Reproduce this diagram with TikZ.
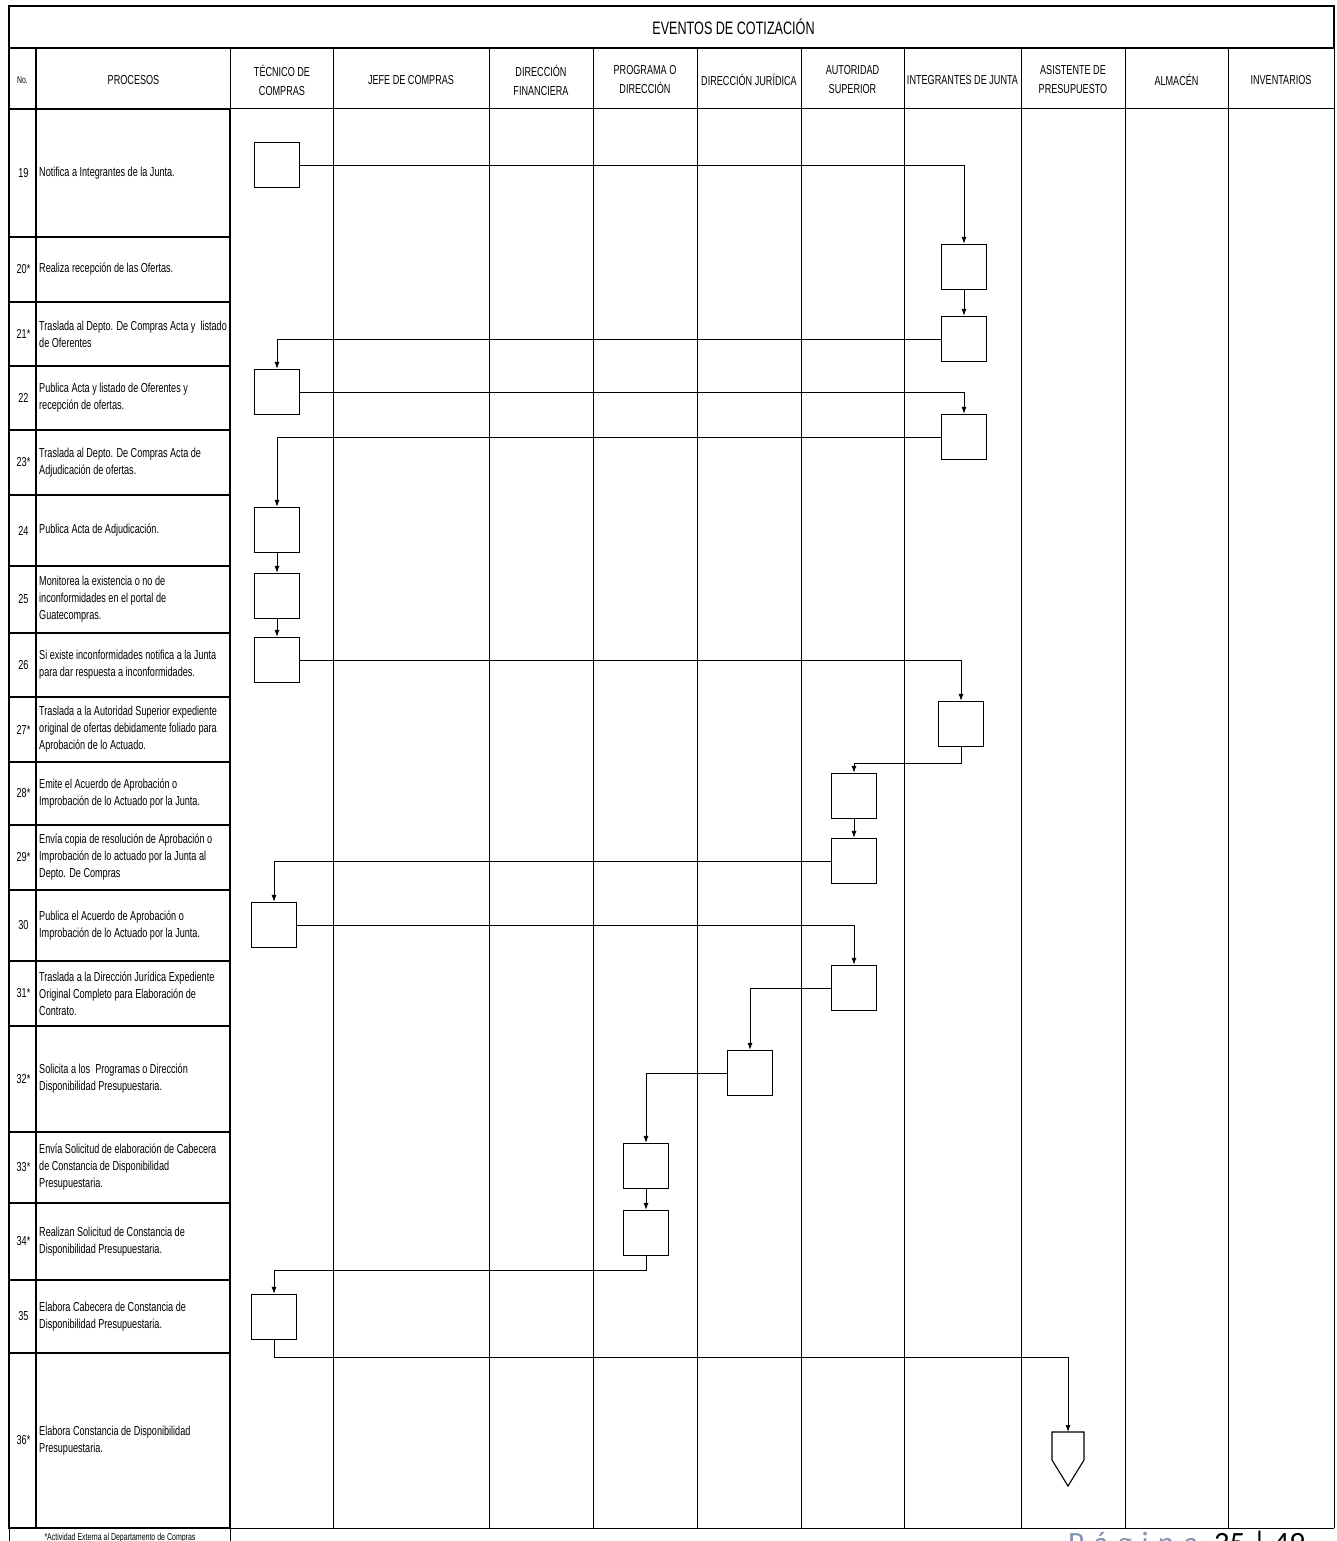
\documentclass[tikz,border=0pt]{standalone}
\usepackage{fontspec}
\setmainfont{Liberation Sans}[FakeStretch=0.70]
\newfontfamily\pagefont{Carlito}
\usepackage{tikz}
\usetikzlibrary{arrows.meta}
\definecolor{pagegray}{HTML}{8497B0}

\begin{document}
\begin{tikzpicture}[x=1pt, y=-1pt,
    tablerule/.style={line width=1.9pt},
    laneline/.style={line width=0.9pt},
    actbox/.style={draw, line width=1.3pt, minimum width=45pt, minimum height=45pt, inner sep=0pt},
    flow/.style={line width=0.9pt, -{Latex[length=7pt, width=5pt]}},
    headtext/.style={font=\fontsize{13}{19}\selectfont, align=center, inner sep=0pt},
    proctext/.style={font=\fontsize{13}{17}\selectfont, align=left, inner sep=0pt, anchor=west},
    numtext/.style={font=\fontsize{13}{17}\selectfont, inner sep=0pt}]
  \useasboundingbox (0,0) rectangle (1337,1541);
  \fill[white] (0,0) rectangle (1337,1541);

  % title and header
  \draw[line width=1.1pt] (9,6) rectangle (1334,48);
  \node[font=\fontsize{18}{20}\selectfont, inner sep=0pt] (title) at (733.5,27) {EVENTOS DE COTIZACIÓN};
  \draw[line width=1pt] (230,109) -- (1334,109);
  \draw[line width=1pt] (1334,48) -- (1334,1528);
  \draw[line width=1pt] (230,48) -- (230,109);
  \foreach \x in {333,489,593,697,801,904,1021,1125,1228}
    \draw[laneline] (\x,48) -- (\x,1528);
  \draw[laneline] (230,1528) -- (1334,1528);
  \draw[tablerule] (9,48) rectangle (36,109);
  \draw[tablerule] (36,109) -- (230,109);
  \node[headtext, font=\fontsize{9.8}{11}\selectfont] (hno) at (22.5,80) {No.};
  \foreach \x/\lab [count=\i] in
    {133.5/PROCESOS, 282/{TÉCNICO DE\\COMPRAS}, 411/JEFE DE COMPRAS,
     541/{DIRECCIÓN\\FINANCIERA}, 645/{PROGRAMA O\\DIRECCIÓN}, 749/DIRECCIÓN JURÍDICA,
     852.5/{AUTORIDAD\\SUPERIOR}, 962.5/INTEGRANTES DE JUNTA,
     1073/{ASISTENTE DE\\PRESUPUESTO}, 1176.5/ALMACÉN, 1281/INVENTARIOS}
    \node[headtext] (h\i) at (\x,80) {\lab};

  % process rows
  \foreach \k/\s/\ya/\yb/\txt in
    {19/{}/109/237/{Notifica a Integrantes de la Junta.},
     20/*/237/302/{Realiza recepción de las Ofertas.},
     21/*/302/366/{Traslada al Depto. De Compras Acta y\ \ listado\\de Oferentes},
     22/{}/366/430/{Publica Acta y listado de Oferentes y\\recepción de ofertas.},
     23/*/430/495/{Traslada al Depto. De Compras Acta de\\Adjudicación de ofertas.},
     24/{}/495/566/{Publica Acta de Adjudicación.},
     25/{}/566/633/{Monitorea la existencia o no de\\inconformidades en el portal de\\Guatecompras.},
     26/{}/633/697/{Si existe inconformidades notifica a la Junta\\para dar respuesta a inconformidades.},
     27/*/697/762/{Traslada a la Autoridad Superior expediente\\original de ofertas debidamente foliado para\\Aprobación de lo Actuado.},
     28/*/762/825/{Emite el Acuerdo de Aprobación o\\Improbación de lo Actuado por la Junta.},
     29/*/825/890/{Envía copia de resolución de Aprobación o\\Improbación de lo actuado por la Junta al\\Depto. De Compras},
     30/{}/890/961/{Publica el Acuerdo de Aprobación o\\Improbación de lo Actuado por la Junta.},
     31/*/961/1026/{Traslada a la Dirección Jurídica Expediente\\Original Completo para Elaboración de\\Contrato.},
     32/*/1026/1132/{Solicita a los\ \ Programas o Dirección\\Disponibilidad Presupuestaria.},
     33/*/1132/1203/{Envía Solicitud de elaboración de Cabecera\\de Constancia de Disponibilidad\\Presupuestaria.},
     34/*/1203/1280/{Realizan Solicitud de Constancia de\\Disponibilidad Presupuestaria.},
     35/{}/1280/1353/{Elabora Cabecera de Constancia de\\Disponibilidad Presupuestaria.},
     36/*/1353/1528/{Elabora Constancia de Disponibilidad\\Presupuestaria.}}
  {
    \draw[tablerule] (9,\ya) rectangle (36,\yb);
    \draw[tablerule] (36,\ya) rectangle (230,\yb);
    \node[numtext] (n\k) at (23.5,{(\ya+\yb)/2}) {\k\s};
    \node[proctext] (r\k) at (39,{(\ya+\yb)/2}) {\txt};
  }
  \draw[line width=0.9pt] (9,1528) -- (9,1545) (230,1528) -- (230,1545);
  \node[font=\fontsize{10}{10}\selectfont, inner sep=0pt] (note) at (120,1538)
    {*Actividad Externa al Departamento de Compras};
  \node[font=\pagefont\fontsize{31}{31}\selectfont, inner sep=0pt, anchor=base west, text=pagegray]
    (pagina) at (1068,1553)
    {P\hspace{0.3em}á\hspace{0.3em}g\hspace{0.3em}i\hspace{0.3em}n\hspace{0.3em}a\hspace{0.5em}\textcolor{black}{35 | 49}};

  % activity boxes
  \node[actbox] (t19) at (277,165) {};
  \node[actbox] (i20) at (964,267) {};
  \node[actbox] (i21) at (964,339) {};
  \node[actbox] (t22) at (277,392) {};
  \node[actbox] (i23) at (964,437) {};
  \node[actbox] (t24) at (277,530) {};
  \node[actbox] (t25) at (277,596) {};
  \node[actbox] (t26) at (277,660) {};
  \node[actbox] (i27) at (961,724) {};
  \node[actbox] (a28) at (854,796) {};
  \node[actbox] (a29) at (854,861) {};
  \node[actbox] (t30) at (274,925) {};
  \node[actbox] (a31) at (854,988) {};
  \node[actbox] (j32) at (750,1073) {};
  \node[actbox] (p33) at (646,1166) {};
  \node[actbox] (p34) at (646,1233) {};
  \node[actbox] (t35) at (274,1317) {};
  \coordinate (s36) at (1068,1432);
  \draw[line width=1.1pt] ([xshift=-16pt]s36) -- ([xshift=16pt]s36) -- ++(0,28)
    -- ++(-16,26) -- ++(-16,-26) -- cycle;

  % connectors
  \draw[flow] (t19.east) -| (i20.north);
  \draw[flow] (i20) -- (i21);
  \draw[flow] (i21.west) -| (t22.north);
  \draw[flow] (t22.east) -| (i23.north);
  \draw[flow] (i23.west) -| (t24.north);
  \draw[flow] (t24) -- (t25);
  \draw[flow] (t25) -- (t26);
  \draw[flow] (t26.east) -| (i27.north);
  \draw[flow] (i27.south) -- ++(0,16) -| (a28.north);
  \draw[flow] (a28) -- (a29);
  \draw[flow] (a29.west) -| (t30.north);
  \draw[flow] (t30.east) -| (a31.north);
  \draw[flow] (a31.west) -| (j32.north);
  \draw[flow] (j32.west) -| (p33.north);
  \draw[flow] (p33) -- (p34);
  \draw[flow] (p34.south) -- ++(0,14) -| (t35.north);
  \draw[flow] (t35.south) -- ++(0,17) -| (s36);
\end{tikzpicture}
\end{document}
